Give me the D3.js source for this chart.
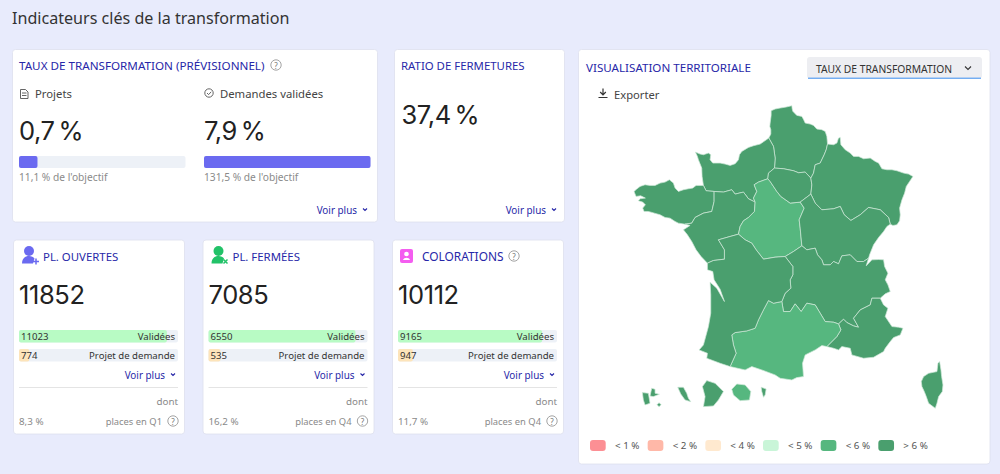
<!DOCTYPE html>
<html lang="fr">
<head>
<meta charset="utf-8">
<title>Indicateurs clés de la transformation</title>
<script src="https://cdn.jsdelivr.net/npm/d3@7"></script>
<style>
  html, body { margin: 0; padding: 0; background: #e8ebfc; }
  svg { display: block; font-family: "Noto Sans", sans-serif; }
</style>
</head>
<body>
<svg id="chart" width="1000" height="474"></svg>
<script>
// indicateurs
const tauxLabels = ['Projets', 'Demandes validées'];
const tauxValues = ['0,7 %', '7,9 %'];
const tauxObjectif = [11.1, 131.5];
const tauxCaptions = ["11,1 % de l'objectif", "131,5 % de l'objectif"];
const ratioFermetures = '37,4 %';

const placeTitles = ['PL. OUVERTES', 'PL. FERMÉES', 'COLORATIONS'];
const placeTotals = [11852, 7085, 10112];
const placeValidees = [11023, 6550, 9165];
const placeProjets = [774, 535, 947];
const placeShares = ['8,3 %', '16,2 %', '11,7 %'];
const placeQuarters = ['places en Q1', 'places en Q4', 'places en Q4'];

// carte : taux estimé par région (seule la classe de couleur se lit sur l'image)
const regionNames = ['Hauts-de-France', 'Normandie', 'Bretagne', 'Pays de la Loire', 'Centre-Val de Loire', 'Île-de-France', 'Grand Est', 'Bourgogne-Franche-Comté', 'Auvergne-Rhône-Alpes', "Provence-Alpes-Côte d'Azur", 'Occitanie', 'Nouvelle-Aquitaine', 'Corse', 'Guadeloupe', 'Martinique', 'Guyane', 'La Réunion', 'Mayotte'];
const regionTaux = [6.5, 6.5, 6.5, 6.5, 5.5, 6.5, 6.5, 6.5, 6.5, 6.5, 5.5, 6.5, 6.5, 6.5, 6.5, 6.5, 5.5, 6.5];
const legendLabels = ['< 1 %', '< 2 %', '< 4 %', '< 5 %', '< 6 %', '> 6 %'];
const legendThresholds = [1, 2, 4, 5, 6];
const legendColors = ['#fc8f94', '#ffb8a8', '#ffe9cf', '#c9f5d8', '#56b77f', '#4a9f6e'];

// frontières régionales, en coordonnées planes de la carte
const hautsCoast = [[446,130],[452,118],[452,105],[449,95],[450,85],[453,62],[453,48],[465,43],[480,40],[498,37],[515,33],[516,42],[518,50],[530,62],[545,65],[550,74],[555,85],[570,88],[580,92],[590,103],[605,105],[615,110],[620,125],[622,148]];
const hautsEst = [[622,148],[618,165],[612,180],[600,205],[585,210],[580,235],[572,250]];
const hautsIdf = [[572,250],[555,232],[535,234],[520,228],[490,222],[463,220]];
const hautsNorm = [[463,220],[465,190],[460,155],[446,130]];
const normCoast = [[446,130],[420,148],[400,153],[385,158],[365,170],[358,180],[355,195],[345,207],[330,212],[315,208],[300,205],[278,205],[270,195],[272,180],[265,175],[250,180],[240,178],[226,172],[232,185],[235,195],[245,220],[246,245],[250,272]];
const normBret = [[250,272],[258,288],[282,290]];
const normPdl = [[282,290],[310,292],[335,285],[345,298],[370,292],[385,312],[405,322]];
const normCvl = [[405,322],[400,310],[410,290],[402,270],[415,262],[443,252]];
const normIdf = [[443,252],[445,235],[463,220]];
const bretCoast = [[250,272],[228,272],[218,280],[205,282],[190,285],[175,290],[165,280],[160,265],[148,255],[135,262],[120,265],[105,272],[90,272],[75,270],[60,275],[50,283],[42,290],[48,305],[62,303],[76,310],[60,312],[55,318],[68,322],[76,330],[68,340],[72,350],[85,350],[103,355],[120,360],[135,368],[150,370],[165,380],[175,385],[195,388]];
const bretPdl = [[195,388],[215,385],[225,368],[250,355],[275,350],[282,320],[282,290]];
const pdlCoast = [[195,388],[210,392],[190,405],[202,420],[215,440],[228,465],[243,485],[262,505]];
const pdlNa = [[262,505],[280,497],[313,493],[313,465],[295,435],[330,425],[355,418]];
const pdlCvl = [[355,418],[360,395],[370,378],[385,368],[403,350],[405,322]];
const cvlNa = [[355,418],[375,435],[395,445],[408,465],[430,493],[465,487],[495,485]];
const cvlAra = [[545,453],[520,470],[495,485]];
const cvlBfc = [[540,322],[552,340],[537,375],[540,400],[545,453]];
const idfCvl = [[443,252],[450,260],[470,290],[482,305],[510,325],[540,322]];
const idfBfc = [[540,322],[572,298]];
const idfEst = [[572,298],[575,270],[572,250]];
const estBfc = [[572,298],[585,325],[605,345],[640,342],[660,335],[672,360],[692,377],[720,360],[745,338],[780,345],[805,368],[810,388]];
const estBorder = [[622,148],[640,150],[650,145],[655,130],[660,128],[662,150],[675,165],[690,175],[700,185],[715,185],[730,192],[750,190],[765,200],[775,205],[785,222],[800,225],[815,225],[830,228],[850,235],[865,238],[878,245],[868,260],[858,275],[853,295],[845,315],[838,340],[840,360],[838,378],[830,390],[818,392],[810,388]];
const bfcBorder = [[810,388],[800,395],[790,410],[775,428],[760,450],[748,480],[745,490]];
const araBfc = [[545,453],[560,465],[585,460],[592,480],[605,495],[610,510],[630,510],[640,500],[655,507],[665,483],[690,480],[710,500],[730,500],[745,490]];
const araBorder = [[745,490],[738,513],[755,495],[775,494],[790,495],[793,515],[803,535],[795,555],[803,570],[810,590],[795,597],[780,610]];
const araNa = [[495,485],[518,515],[518,540],[510,555],[512,580],[495,595],[485,620]];
const araOcc = [[485,620],[490,650],[510,650],[525,627],[543,650],[560,625],[585,630],[600,655],[615,680],[640,682],[655,687]];
const araPaca = [[655,687],[670,673],[680,683],[700,693],[715,697],[700,670],[720,645],[750,630],[755,610],[780,610]];
const pacaCoast = [[780,610],[790,630],[803,640],[795,665],[815,695],[835,697],[848,700],[840,720],[820,728],[810,740],[795,760],[790,770],[760,787],[730,790],[695,780],[690,760],[665,755],[655,765],[640,760],[620,755]];
const occPaca = [[620,755],[650,725],[662,705],[655,687]];
const occCoast = [[620,755],[605,752],[585,765],[555,780],[547,805],[550,845],[530,848],[515,855],[480,850],[465,840],[425,825],[395,815],[375,825],[330,815]];
const occNa = [[330,815],[348,775],[340,750],[335,720],[345,713],[380,708],[405,700],[415,675],[430,645],[445,617],[460,625],[485,620]];
const naCoast = [[330,815],[300,805],[260,790],[262,775],[237,765],[250,750],[265,695],[272,655],[272,600],[270,562],[290,580],[313,620],[300,583],[282,555],[278,530],[262,525],[262,505]];
const corse = [[958,800],[962,825],[964,845],[968,870],[966,890],[955,905],[950,925],[945,940],[925,925],[918,905],[912,890],[905,875],[903,860],[910,845],[925,835],[950,830],[953,805]];
const guadeloupeOuest = [[67,893],[85,895],[90,925],[75,930],[70,915]];
const guadeloupeEst = [[95,880],[105,883],[105,895],[118,898],[100,905],[90,903]];
const marieGalante = [[117,923],[123,929],[117,935],[111,929]];
const martinique = [[173,877],[190,877],[200,895],[205,910],[212,920],[195,915],[182,897]];
const guyane = [[260,857],[285,865],[310,890],[295,915],[280,933],[250,935],[255,905],[247,875]];
const reunion = [[350,867],[375,870],[392,890],[388,915],[360,917],[340,900],[335,883]];
const mayotte = [[423,877],[438,882],[435,900],[430,907],[425,890]];

const rev = (arc) => arc.slice().reverse();
const ring = (...arcs) => { const r = arcs.flat(); r.push(r[0]); return r; };

const regionPolygons = [
  [ring(hautsCoast, hautsEst, hautsIdf, hautsNorm)],
  [ring(normCoast, normBret, normPdl, normCvl, normIdf, hautsNorm)],
  [ring(bretCoast, bretPdl, rev(normBret))],
  [ring(rev(bretPdl), pdlCoast, pdlNa, pdlCvl, rev(normPdl))],
  [ring(idfCvl, cvlBfc, cvlAra, rev(cvlNa), pdlCvl, normCvl)],
  [ring(rev(hautsIdf), rev(idfEst), rev(idfBfc), rev(idfCvl), normIdf)],
  [ring(estBorder, rev(estBfc), idfEst, rev(hautsEst))],
  [ring(idfBfc, estBfc, bfcBorder, rev(araBfc), rev(cvlBfc))],
  [ring(araBfc, araBorder, rev(araPaca), rev(araOcc), rev(araNa), rev(cvlAra))],
  [ring(pacaCoast, occPaca, araPaca)],
  [ring(occCoast, occNa, araOcc, rev(occPaca))],
  [ring(naCoast, pdlNa, cvlNa, araNa, rev(occNa))],
  [ring(corse)],
  [ring(guadeloupeOuest), ring(guadeloupeEst), ring(marieGalante)],
  [ring(martinique)],
  [ring(guyane)],
  [ring(reunion)],
  [ring(mayotte)]
];

const INK = '#2b2b2b';
const BLUE = '#2727a8';
const GREY = '#8a8a8a';
const PURPLE = '#6b6af0';
const BIG_FONT = 'Inter, sans-serif';

const svg = d3.select('#chart');

function label(g, x, y, text, size, color, anchor) {
  return g.append('text')
    .attr('x', x).attr('y', y)
    .attr('font-size', size)
    .attr('fill', color || INK)
    .attr('text-anchor', anchor || 'start')
    .attr('dominant-baseline', 'central')
    .text(text);
}

function bigNumber(g, x, y, text) {
  return label(g, x, y, text, 25.5, '#222')
    .attr('font-family', BIG_FONT)
    .attr('font-weight', 400)
    .attr('word-spacing', -3)
    .attr('letter-spacing', -0.4);
}

function card(x, y, w, h) {
  svg.append('rect').attr('x', x).attr('y', y).attr('width', w).attr('height', h)
    .attr('rx', 3).attr('fill', '#fff').attr('stroke', '#dde0ee').attr('stroke-width', 0.8);
}

function chevron(g, x, y, size, color) {
  g.append('path')
    .attr('d', `M${x - size},${y - size / 2}L${x},${y + size / 2}L${x + size},${y - size / 2}`)
    .attr('fill', 'none').attr('stroke', color).attr('stroke-width', 1.1);
}

function helpIcon(g, x, y) {
  g.append('circle').attr('cx', x).attr('cy', y).attr('r', 5.2)
    .attr('fill', 'none').attr('stroke', '#8d8d8d').attr('stroke-width', 0.8);
  label(g, x, y, '?', 8, '#777', 'middle');
}

function voirPlus(g, right, y) {
  label(g, right, y, 'Voir plus', 9.9, BLUE, 'end');
  chevron(g, right + 8, y - 0.5, 2, BLUE);
}

function bar(g, x, y, w, h, share, fill) {
  const scale = d3.scaleLinear().domain([0, 1]).range([0, w]).clamp(true);
  g.append('rect').attr('x', x).attr('y', y).attr('width', w).attr('height', h).attr('rx', 2).attr('fill', '#edf1f7');
  g.append('rect').attr('x', x).attr('y', y).attr('width', scale(share)).attr('height', h).attr('rx', 2).attr('fill', fill);
}

svg.append('text').attr('x', 12).attr('y', 17.5)
  .attr('font-size', 16.1).attr('fill', '#333').attr('dominant-baseline', 'central')
  .text('Indicateurs clés de la transformation');

// carte taux de transformation
card(12.5, 49.5, 365, 172.5);
const taux = svg.append('g');
label(taux, 19, 65, 'TAUX DE TRANSFORMATION (PRÉVISIONNEL)', 11.67, BLUE);
helpIcon(taux, 276, 65);
const tauxX = d3.scalePoint().domain(tauxLabels).range([19, 204]);
tauxLabels.forEach((name, i) => {
  const x = tauxX(name);
  label(taux, x + 16, 93.5, name, 11.3, '#444');
  if (i === 0) {
    taux.append('path').attr('d', `M${x + 1.5},89.5h5l2.5,2.5v6.5h-7.5zM${x + 3},93h4.5M${x + 3},95.5h4.5`)
      .attr('fill', 'none').attr('stroke', '#555').attr('stroke-width', 0.9);
  } else {
    taux.append('circle').attr('cx', x + 5).attr('cy', 93).attr('r', 4.2)
      .attr('fill', 'none').attr('stroke', '#555').attr('stroke-width', 0.9);
    taux.append('path').attr('d', `M${x + 3},93l1.6,1.6l2.6,-2.8`)
      .attr('fill', 'none').attr('stroke', '#555').attr('stroke-width', 0.9);
  }
  bigNumber(taux, x, 130, tauxValues[i]);
  bar(taux, x, 156, 166.5, 12, tauxObjectif[i] / 100, PURPLE);
  label(taux, x, 177, tauxCaptions[i], 10.2, GREY);
});
voirPlus(taux, 357, 210);

// ratio de fermetures
card(394.5, 49.5, 170, 172.5);
const ratio = svg.append('g');
label(ratio, 401, 65, 'RATIO DE FERMETURES', 11.4, BLUE);
bigNumber(ratio, 401.5, 114, ratioFermetures);
voirPlus(ratio, 546, 210);

// cartes des places
const placeX = d3.scalePoint().domain(placeTitles).range([13, 392]);
const placeIconColors = ['#6b6af0', '#22c268', '#f45df0'];
placeTitles.forEach((name, i) => {
  const left = placeX(name);
  const x = left + 6;
  const right = x + 159;
  card(left + 0.5, 240, 171, 194);
  const g = svg.append('g');
  const color = placeIconColors[i];
  if (i < 2) {
    g.append('circle').attr('cx', x + 10).attr('cy', 251).attr('r', 5).attr('fill', color);
    g.append('path').attr('d', `M${x + 3},263.5c0,-5 3,-7.5 7,-7.5c2.5,0 4.5,1 5.5,2.5l-1.5,5z`).attr('fill', color);
    const mark = i === 0 ? `M${x + 14},261.5h6M${x + 17},258.5v6` : `M${x + 15},259.5l4,4M${x + 19},259.5l-4,4`;
    g.append('path').attr('d', mark).attr('stroke', color).attr('stroke-width', 1.5).attr('fill', 'none');
  } else {
    g.append('rect').attr('x', x + 2).attr('y', 249).attr('width', 13).attr('height', 14).attr('rx', 2).attr('fill', color);
    g.append('circle').attr('cx', x + 8.5).attr('cy', 254).attr('r', 2.3).attr('fill', '#fff');
    g.append('path').attr('d', `M${x + 5},260c1,-3 6,-3 7,0z`).attr('fill', '#fff');
  }
  label(g, x + 24, 256, name, i === 2 ? 11.9 : 11.4, BLUE);
  if (i === 2) helpIcon(g, 514, 256);
  bigNumber(g, x, 294, placeTotals[i]);

  bar(g, x, 330, 159, 12.5, placeValidees[i] / placeTotals[i], '#b8fbc4');
  label(g, x + 2, 336.5, placeValidees[i], 9.6, '#333');
  label(g, right - 3, 336.5, 'Validées', 9.6, '#333', 'end');
  bar(g, x, 349, 159, 12.5, placeProjets[i] / placeTotals[i], '#fde4ba');
  label(g, x + 2, 355.5, placeProjets[i], 9.6, '#333');
  label(g, right - 3, 355.5, 'Projet de demande', 9.6, '#333', 'end');
  voirPlus(g, right - 13, 375);

  g.append('line').attr('x1', x).attr('x2', right).attr('y1', 387.5).attr('y2', 387.5)
    .attr('stroke', '#ddd').attr('stroke-width', 0.8);
  label(g, right, 401.5, 'dont', 9.8, GREY, 'end');
  label(g, x, 421, placeShares[i], 9.8, GREY);
  label(g, right - 16, 421, placeQuarters[i], 9.4, GREY, 'end');
  helpIcon(g, right - 5, 421);
});

// visualisation territoriale
card(578.5, 49.5, 411.5, 414.5);
const terr = svg.append('g');
label(terr, 586, 67, 'VISUALISATION TERRITORIALE', 11.6, BLUE);
terr.append('rect').attr('x', 807).attr('y', 57).attr('width', 175).attr('height', 21.5).attr('rx', 3).attr('fill', '#edeef2');
terr.append('line').attr('x1', 808).attr('x2', 981).attr('y1', 78.2).attr('y2', 78.2).attr('stroke', '#3b8ef0').attr('stroke-width', 1);
label(terr, 816, 68.5, 'TAUX DE TRANSFORMATION', 10.3, '#333');
chevron(terr, 968, 68, 3, '#333');
terr.append('path').attr('d', 'M603,88.5v6M600.2,92l2.8,2.8l2.8,-2.8M598.5,97.5h9')
  .attr('fill', 'none').attr('stroke', '#333').attr('stroke-width', 1.2);
label(terr, 614, 94, 'Exporter', 11.2, '#444');

const regions = { type: 'FeatureCollection', features: regionPolygons.map((coordinates, i) => ({
  type: 'Feature',
  properties: { name: regionNames[i], taux: regionTaux[i] },
  geometry: { type: 'MultiPolygon', coordinates: coordinates.map((r) => [r]) }
})) };
const color = d3.scaleThreshold().domain(legendThresholds).range(legendColors);
const projection = d3.geoIdentity().fitExtent([[634, 105.7], [943, 408.3]], regions);
const path = d3.geoPath(projection);
terr.append('g').selectAll('path')
  .data(regions.features)
  .join('path')
  .attr('d', path)
  .attr('fill', (d) => color(d.properties.taux))
  .attr('stroke', '#cfe8d8')
  .attr('stroke-width', 0.7)
  .attr('stroke-linejoin', 'round')
  .append('title').text((d) => d.properties.name);

const legendX = d3.scaleBand().domain(legendLabels).range([590, 936]);
const legend = terr.append('g').selectAll('g').data(legendLabels).join('g')
  .attr('transform', (d) => `translate(${legendX(d)},0)`);
legend.append('rect').attr('y', 440).attr('width', 15.7).attr('height', 11).attr('rx', 3)
  .attr('fill', (d, i) => legendColors[i]);
legend.append('text').attr('x', 25).attr('y', 445.5).attr('font-size', 9.8).attr('fill', '#555')
  .attr('dominant-baseline', 'central').text((d) => d);
</script>
</body>
</html>
